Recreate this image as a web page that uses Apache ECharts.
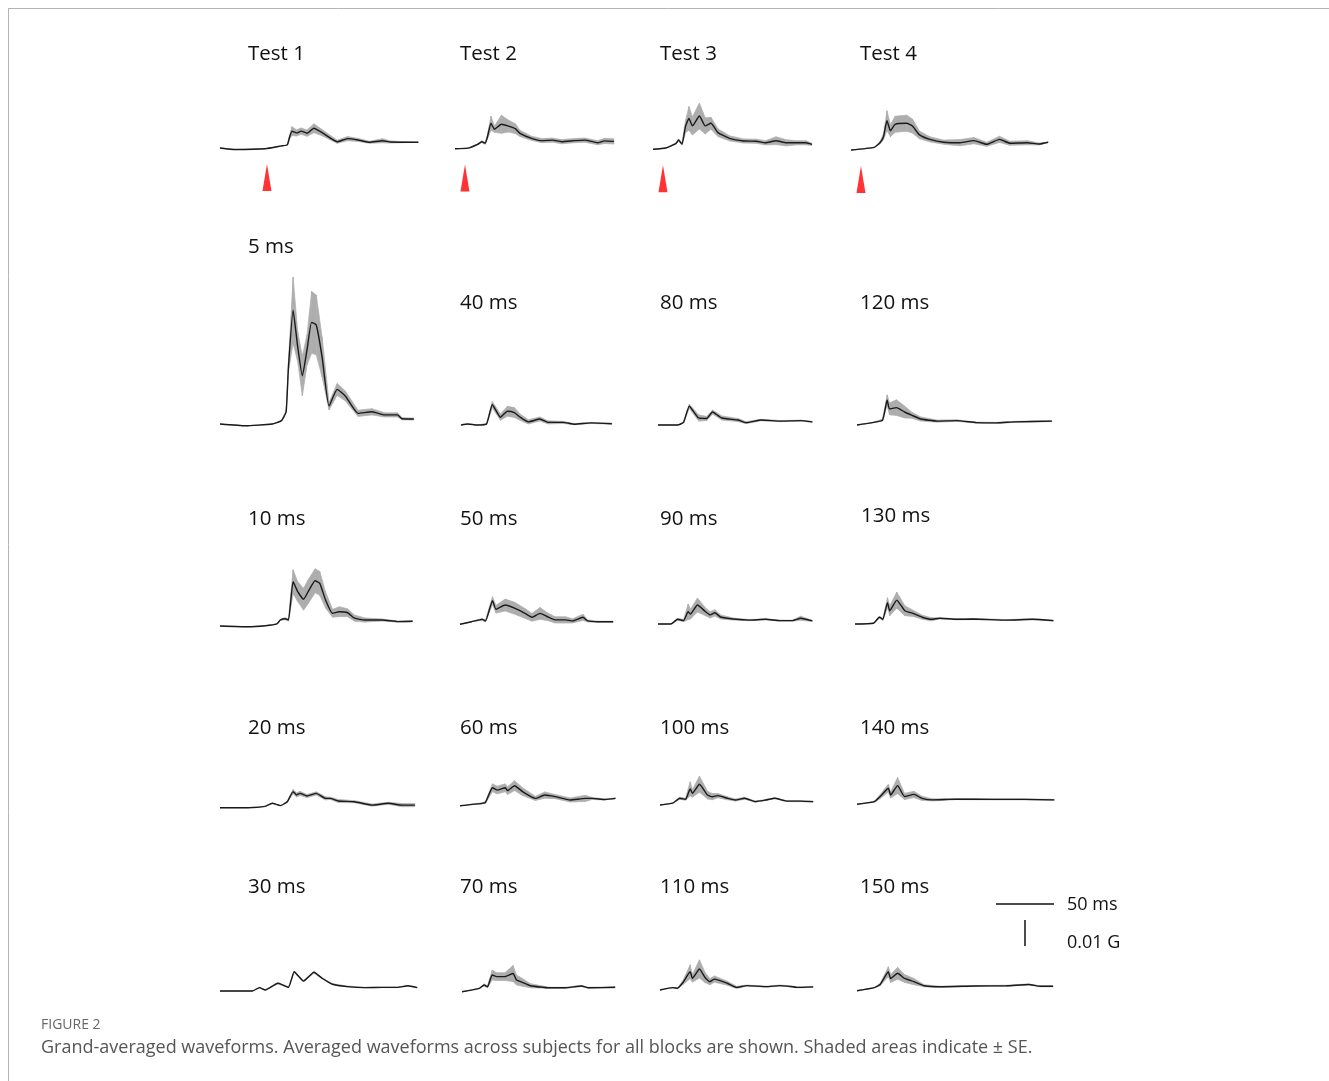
<!DOCTYPE html>
<html><head><meta charset="utf-8">
<script src="https://cdn.jsdelivr.net/npm/echarts@6/dist/echarts.min.js"></script>
<style>html,body{margin:0;padding:0;background:#fff}#c{width:1329px;height:1081px}</style>
</head><body><div id="c"></div><script>
// ---------------- DATA (time in ms, amplitude in mG = 0.001 G) ----------------
const panelNames = ['Test 1','Test 2','Test 3','Test 4',
  '5 ms','40 ms','80 ms','120 ms',
  '10 ms','50 ms','90 ms','130 ms',
  '20 ms','60 ms','100 ms','140 ms',
  '30 ms','70 ms','110 ms','150 ms'];

const t_test1 = [0,13,39,53,58,60,62,66,70,75,81,88,101,110,119,129,140,147,171];
const v_test1 = [0,-0.6,-0.3,0.8,1.2,4.2,6.5,5.8,6.5,5.7,7.6,5.9,2.4,3.6,3.1,2.2,2.8,2.3,2.2];
const se_test1 = [0,0,0,0,0.1,0.8,1.7,1.2,1.2,1.2,1.7,1.2,0.6,0.8,0.6,0.4,0.8,0.4,0];

const t_test2 = [0,11,20,23,26,28,31,34,40,46,52,56,66,75,84,92,103,112,123,129,137];
const v_test2 = [0,0.2,1.8,2.7,2.1,4.6,9.8,7.5,9.4,8.7,7.7,5.9,4.0,3.1,3.3,2.7,3.1,3.3,2.3,3.0,2.8];
const se_test2 = [0,0,0.2,0.4,0.4,0.8,2.7,1.2,3.5,2.3,1.9,1.2,0.8,0.8,0.8,0.8,0.8,0.8,0.8,1.0,1.0];

const t_test3 = [0,11,20,22,25,28,31,34,40,45,50,56,66,78,89,97,106,115,123,132,137];
const v_test3 = [0,0.5,2.3,3.6,2.0,8.7,11.9,9.0,12.8,9.0,10.0,6.4,4.2,3.2,3.1,2.5,3.3,2.5,2.5,2.5,1.9];
const se_test3 = [0,0,0.2,0.4,0.4,2.3,4.6,3.5,5.0,3.1,2.3,1.5,1.0,0.8,0.8,0.8,1.5,1.2,0.8,0.8,0.4];

const t_test4 = [0,20,25,28,31,34,38,48,53,59,68,80,94,106,117,128,137,152,162,170];
const v_test4 = [0,1.0,2.8,5.1,11.3,7.4,9.9,10.3,9.2,5.8,4.1,3.0,2.8,3.6,2.2,4.1,2.6,2.8,2.3,3.0];
const se_test4 = [0,0,0.4,1.2,3.8,2.3,3.1,3.1,2.7,1.5,1.0,0.8,1.2,1.2,0.8,1.2,0.8,0.8,0.4,0];

const t_5 = [0,22,45,53,57,59,63,67,71,75,79,83,88,94,101,108,119,131,142,153,157,167];
const v_5 = [0,-0.7,0,1.3,4.7,21.9,43.8,29.6,18.5,28.5,39.1,38.1,25.8,6.9,13.3,10.8,4.1,4.7,3.5,3.5,2.0,1.9];
const se_5 = [0,0,0,0,0.4,1.9,12.7,5.8,7.7,5.8,11.9,11.5,7.7,1.5,2.3,1.9,1.2,1.2,0.8,0.8,0.4,0.4];

const t_40 = [0,6,14,22,27,34,40,46,51,58,68,75,88,98,112,130];
const v_40 = [0,0.4,0,0.4,7.8,3.0,5.3,4.8,3.0,1.2,2.3,1.0,1.0,0.3,0.8,0.5];
const se_40 = [0,0,0,0.2,1.2,1.2,1.9,1.9,1.2,0.8,0.8,0.6,0.4,0.2,0.2,0.2];

const t_80 = [0,17,22,27,35,42,47,55,69,76,89,106,123,133];
const v_80 = [0,0,1.0,7.2,2.7,2.5,5.0,2.7,1.9,0.9,1.9,1.5,1.7,1.2];
const se_80 = [0,0,0.2,0.8,1.2,0.8,0.8,0.8,0.6,0.4,0.3,0.2,0.2,0.2];

const t_120 = [0,12,22,26,28,34,41,47,55,69,86,103,120,136,168];
const v_120 = [0,0.8,1.9,9.6,6.2,6.7,5.0,3.8,2.3,1.5,1.7,0.9,0.8,1.2,1.5];
const se_120 = [0,0,0.4,2.0,2.3,3.0,2.3,1.2,0.8,0.4,0.3,0.2,0.2,0.2,0.2];

const t_10 = [0,24,39,49,52,56,59,63,67,72,76,82,86,91,97,103,110,116,125,140,153,166];
const v_10 = [0,-0.3,0.1,0.8,2.3,2.8,2.3,17.0,13.2,10.3,13.2,17.4,16.4,10.0,4.9,5.5,5.1,3.0,2.3,2.3,1.7,1.8];
const se_10 = [0,0,0,0,0.2,0.4,0.4,4.6,3.8,4.2,4.6,4.6,4.6,3.1,1.5,1.9,1.5,1.2,0.8,0.4,0.2,0.2];

const t_50 = [0,10,19,22,28,31,39,47,56,62,69,75,82,91,97,106,110,119,132];
const v_50 = [0,1.0,1.9,1.3,9.1,5.8,7.4,6.2,4.2,2.7,4.2,3.0,1.7,1.7,1.3,2.7,1.3,1.0,1.0];
const se_50 = [0,0,0.4,0.4,1.5,1.5,2.3,2.3,1.9,1.5,2.3,1.5,1.2,1.2,0.8,1.2,0.4,0.2,0.2];

const t_90 = [0,11,17,22,26,28,34,41,45,49,54,65,79,93,105,116,123,133];
const v_90 = [0,0,1.8,1.3,4.7,3.8,7.3,4.7,3.5,4.3,2.7,1.9,1.5,1.8,1.3,1.3,2.2,1.2];
const se_90 = [0,0,0.4,0.4,3.0,1.9,2.7,1.5,1.2,1.2,0.8,0.4,0.2,0.2,0.2,0.2,0.8,0.2];

const t_130 = [0,16,21,24,28,30,36,43,50,58,66,73,88,102,131,153,171];
const v_130 = [0,0.3,2.6,1.8,8.2,5.1,9.2,5.1,4.1,2.6,1.8,2.2,1.8,1.9,1.5,1.8,1.3];
const se_130 = [0,0,0.4,0.4,1.9,1.9,3.1,1.9,1.2,0.8,0.6,0.2,0.2,0.2,0.2,0.2,0.2];

const t_20 = [0,24,39,45,52,58,63,66,69,75,83,91,95,102,116,131,145,157,168];
const v_20 = [0,0,0.5,1.7,0.8,2.3,6.2,4.9,5.5,4.5,5.5,3.6,3.6,2.6,2.3,1.0,1.7,1.0,1.0];
const se_20 = [0,0,0,0,0,0.2,0.8,0.8,0.8,0.6,0.6,0.6,0.4,0.6,0.4,0.4,0.4,0.6,0.6];

const t_60 = [0,19,22,28,32,39,41,47,54,65,73,82,95,108,114,125,134];
const v_60 = [0,0.9,1.3,6.9,6.0,6.9,5.8,7.7,5.4,2.8,4.1,3.5,2.2,2.8,2.8,2.4,2.8];
const se_60 = [0,0.2,0.4,1.5,1.5,1.5,1.5,1.9,1.5,0.8,1.2,0.8,0.8,1.2,0.4,0.2,0.2];

const t_100 = [0,11,17,22,26,28,34,41,45,50,58,65,73,82,91,99,109,121,132];
const v_100 = [0,0.7,2.6,2.2,6.2,4.5,8.0,3.8,3.2,3.6,2.6,1.9,2.6,1.3,1.9,2.6,1.5,1.5,1.3];
const se_100 = [0,0,0.4,0.4,2.7,1.5,3.1,1.5,1.2,0.8,0.6,0.4,0.4,0.2,0.2,0.2,0.2,0.2,0.2];

const t_140 = [0,15,20,27,29,35,41,49,56,65,86,115,144,170];
const v_140 = [0,1.0,3.0,6.2,3.6,7.2,3.0,3.8,2.3,1.7,2.0,1.9,1.9,1.7];
const se_140 = [0,0.2,0.8,1.5,1.2,3.1,1.2,1.2,0.8,0.4,0.2,0.2,0.2,0.2];

const t_30 = [0,28,34,39,50,59,64,72,81,88,97,110,125,140,153,162,170];
const v_30 = [0,0,1.3,0.4,3.0,1.4,7.4,3.8,7.2,4.9,2.6,1.7,1.3,1.4,1.4,2.0,1.3];
const se_30 = [0,0,0.1,0.1,0.2,0.2,0.3,0.2,0.3,0.2,0.2,0.2,0.1,0.1,0.1,0.1,0.1];

const t_70 = [0,15,19,22,26,30,37,44,47,52,59,75,89,103,109,132];
const v_70 = [0,1.3,2.6,1.9,6.4,5.8,5.8,7.0,4.5,3.6,2.3,1.5,1.5,2.2,1.5,1.7];
const se_70 = [0,0,0.4,0.4,1.9,1.5,1.5,3.1,1.9,1.5,0.8,0.2,0.2,0.2,0.2,0.2];

const t_110 = [0,11,15,20,26,28,34,39,43,47,58,66,75,92,103,110,118,132];
const v_110 = [0,0.9,0.7,3.0,7.0,4.5,8.1,4.7,3.2,4.2,2.6,1.0,1.7,1.3,1.7,1.5,1.0,1.2];
const se_110 = [0,0,0,0.8,2.7,1.5,3.5,1.9,1.2,1.2,0.8,0.4,0.2,0.2,0.2,0.2,0.2,0.2];

const t_150 = [0,15,20,27,29,35,41,49,58,72,101,129,148,158,169];
const v_150 = [0,1.2,2.4,7.3,4.7,6.7,4.7,3.5,1.9,1.5,1.8,1.9,2.4,1.7,1.7];
const se_150 = [0,0,0.4,1.9,1.5,2.3,1.5,1.2,0.4,0.2,0.2,0.2,0.2,0.2,0.2];

// stimulus onset markers (ms from trace start) for the Test blocks
const stimTimes = [40.5, 8.6, 8.6, 8.6];
// scale bar values
const scaleBarTime = [0, 50];      // ms
const scaleBarAmp = [0, 10];       // mG (0.01 G)
const scaleLabels = ['50 ms', '0.01 G'];
const captionTitle = 'FIGURE 2';
const captionText = 'Grand-averaged waveforms. Averaged waveforms across subjects for all blocks are shown. Shaded areas indicate \u00B1 SE.';

const panelT = [t_test1,t_test2,t_test3,t_test4,t_5,t_40,t_80,t_120,t_10,t_50,t_90,t_130,t_20,t_60,t_100,t_140,t_30,t_70,t_110,t_150];
const panelV = [v_test1,v_test2,v_test3,v_test4,v_5,v_40,v_80,v_120,v_10,v_50,v_90,v_130,v_20,v_60,v_100,v_140,v_30,v_70,v_110,v_150];
const panelSE = [se_test1,se_test2,se_test3,se_test4,se_5,se_40,se_80,se_120,se_10,se_50,se_90,se_130,se_20,se_60,se_100,se_140,se_30,se_70,se_110,se_150];

// ---------------- LAYOUT (pixels) ----------------
// [trace start x, baseline y, label x, label y]
const layout = [
  [220,148,248,54],[455,148.7,460,54],[653,149.3,660,54],[851,150,860,54],
  [220,424,248,247],[461,425,460,303],[658,425,660,303],[857,425,860,303],
  [220,626,248,519],[460,624.3,460,519],[658,624,660,519],[855,624,861,516],
  [220,807.7,248,728],[460,805.7,460,728],[660,805,660,728],[857,804.3,860,728],
  [220,991,248,887],[462,991.7,460,887],[660,990,660,887],[857,990.7,860,887]
];
const PX_PER_MS = 1.16, PX_PER_MG = 2.6;
const X_MAX = 180, Y_MIN = -20, Y_MAX = 80;
const BAND = '#adadad', LINE = '#1a1a1a';

const grids = [], xAxes = [], yAxes = [], series = [], graphics = [];
function addGrid(x0, y0) {
  grids.push({left: x0, top: y0 - Y_MAX * PX_PER_MG, width: X_MAX * PX_PER_MS,
    height: (Y_MAX - Y_MIN) * PX_PER_MG, containLabel: false, outerBoundsMode: 'none', show: false});
  const i = grids.length - 1;
  xAxes.push({type:'value', gridIndex:i, min:0, max:X_MAX, show:false});
  yAxes.push({type:'value', gridIndex:i, min:Y_MIN, max:Y_MAX, show:false});
  return i;
}
function bandRender(params, api) {
  const a = api.coord([api.value(0), api.value(1)]);
  const b = api.coord([api.value(0), api.value(2)]);
  const c = api.coord([api.value(3), api.value(5)]);
  const d = api.coord([api.value(3), api.value(4)]);
  return {type:'polygon', silent:true, shape:{points:[a,b,c,d]},
    style:{fill:BAND, stroke:BAND, lineWidth:0.7}};
}

panelNames.forEach((name, p) => {
  const [x0, y0, lx, ly] = layout[p];
  const gi = addGrid(x0, y0);
  const t = panelT[p], v = panelV[p], se = panelSE[p];
  const n = Math.min(t.length, v.length, se.length);
  const quads = [];
  for (let j = 0; j < n - 1; j++) {
    quads.push([t[j], v[j]-se[j], v[j]+se[j], t[j+1], v[j+1]-se[j+1], v[j+1]+se[j+1]]);
  }
  series.push({type:'custom', xAxisIndex:gi, yAxisIndex:gi, renderItem:bandRender,
    data:quads, encode:{x:[0,3], y:[1,2,4,5]}, z:1, silent:true, animation:false, clip:false});
  const line = [];
  for (let j = 0; j < n; j++) line.push([t[j], v[j]]);
  series.push({type:'line', xAxisIndex:gi, yAxisIndex:gi, data:line, symbol:'none', smooth:0.15,
    lineStyle:{color:LINE, width:1.4}, z:3, silent:true, animation:false, clip:false});
  if (p < 4) {
    series.push({type:'scatter', xAxisIndex:gi, yAxisIndex:gi, data:[[stimTimes[p], -11.3]],
      symbol:'triangle', symbolSize:[9,27], itemStyle:{color:'#ff0000'}, z:4, silent:true, animation:false, clip:false});
  }
  graphics.push({type:'text', x:lx, y:ly, style:{text:name, font:'20.5px "Open Sans"', fill:'#111',
    align:'left', verticalAlign:'middle'}});
});

// scale bar panel
const sg = addGrid(996, 946);
series.push({type:'line', xAxisIndex:sg, yAxisIndex:sg, symbol:'none', animation:false,
  data:[[scaleBarTime[0], 16.2],[scaleBarTime[1], 16.2]], lineStyle:{color:'#111', width:1.5}});
series.push({type:'line', xAxisIndex:sg, yAxisIndex:sg, symbol:'none', animation:false,
  data:[[25, scaleBarAmp[0]],[25, scaleBarAmp[1]]], lineStyle:{color:'#111', width:1.5}});
graphics.push({type:'text', x:1067, y:905, style:{text:scaleLabels[0], font:'18px "Open Sans"', fill:'#111', verticalAlign:'middle'}});
graphics.push({type:'text', x:1067, y:943, style:{text:scaleLabels[1], font:'18px "Open Sans"', fill:'#111', verticalAlign:'middle'}});

// frame + caption
graphics.push({type:'line', shape:{x1:8, y1:8.5, x2:1329, y2:8.5}, style:{stroke:'#b4b4b4', lineWidth:1}});
graphics.push({type:'line', shape:{x1:8.5, y1:8, x2:8.5, y2:1081}, style:{stroke:'#b4b4b4', lineWidth:1}});
graphics.push({type:'text', x:41, y:1025, style:{text:captionTitle, font:'14px "Open Sans"', fill:'#666', verticalAlign:'middle'}});
graphics.push({type:'text', x:41, y:1048, style:{text:captionText, font:'18px "Open Sans"', fill:'#555', verticalAlign:'middle'}});

const chart = echarts.init(document.getElementById('c'), null, {renderer:'canvas'});
chart.setOption({backgroundColor:'#fff', animation:false, grid:grids, xAxis:xAxes, yAxis:yAxes,
  series:series, graphic:graphics});
</script></body></html>
